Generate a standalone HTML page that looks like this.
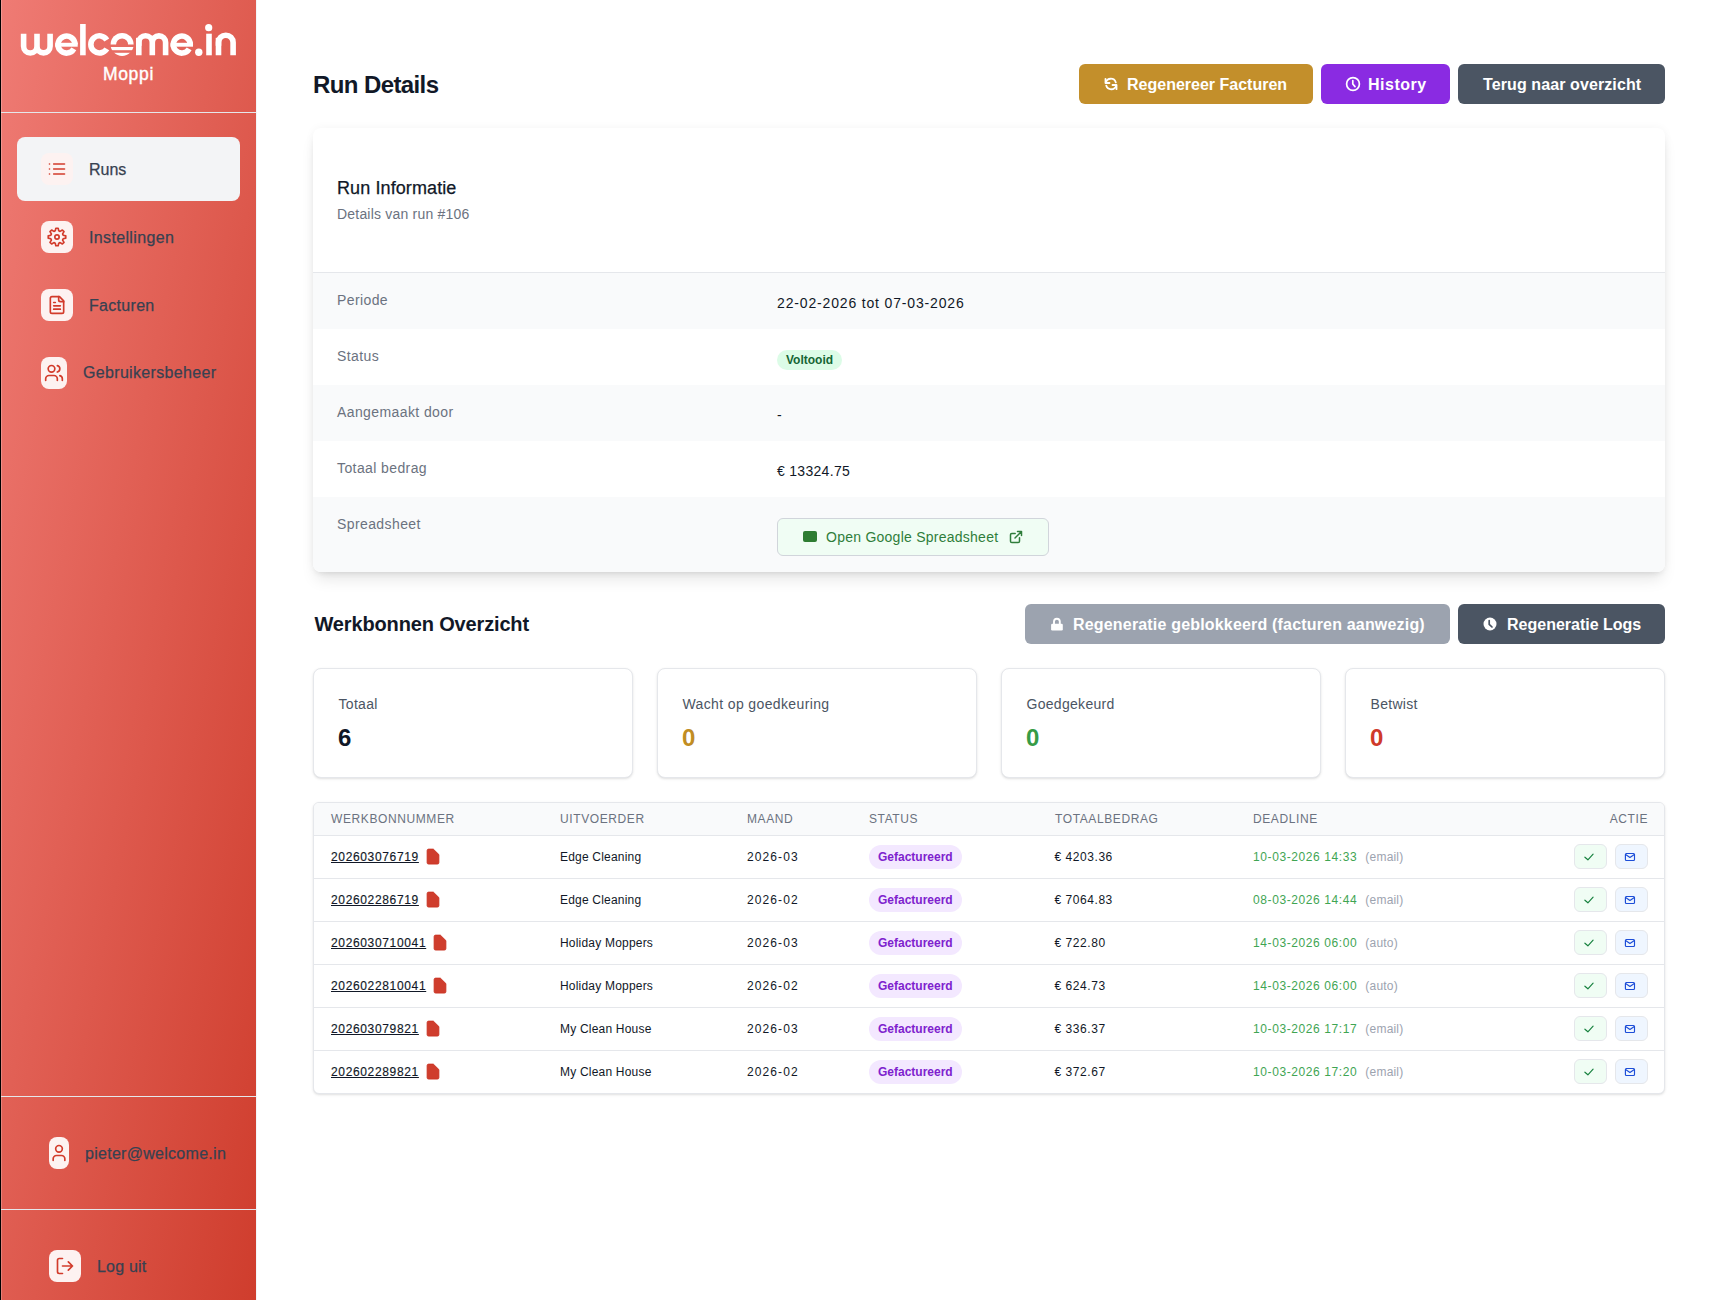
<!DOCTYPE html>
<html><head><meta charset="utf-8">
<style>
*{box-sizing:border-box;margin:0;padding:0}
html,body{width:1720px;height:1300px;overflow:hidden;background:#fff;font-family:"Liberation Sans",sans-serif;color:#111827}
.abs{position:absolute;white-space:nowrap}
#blk{position:absolute;left:0;top:0;width:1px;height:1300px;background:#000}
#side{position:absolute;left:1px;top:0;width:255px;height:1300px;background:linear-gradient(to bottom right,#ef7b74,#cf3d2d)}
#side .hl{position:absolute;left:0;top:0;width:1px;height:1300px;background:rgba(255,255,255,.22)}
.sep{position:absolute;left:0;width:255px;height:1px;background:#e5e7eb}
.nav{position:absolute;left:16px;width:223px;height:64px;border-radius:8px}
.nav.act{background:#f3f4f6}
.ibox{position:absolute;width:32px;height:32px;border-radius:8px;background:#fdf2f1;overflow:hidden}
.ibox svg{position:absolute;left:6px;top:6px;width:20px;height:20px}
.ntxt{position:absolute;font-size:16px;line-height:24px;color:#374151;white-space:nowrap;-webkit-text-stroke:0.25px #374151}
.btn{position:absolute;height:40px;border-radius:6px;color:#fff;font-weight:700;font-size:16px;line-height:24px;white-space:nowrap}
.btn span{position:absolute;top:9px}
.btn svg{position:absolute}
.card{position:absolute;left:313px;top:128px;width:1352px;height:444px;border-radius:8px;background:#fff;overflow:hidden;
  box-shadow:0 10px 15px -3px rgba(0,0,0,.1),0 4px 6px -4px rgba(0,0,0,.1),0 0 10px rgba(0,0,0,.045)}
.row{position:absolute;left:0;width:1352px;height:56px}
.row.gr{background:#f9fafb}
.lbl{position:absolute;left:24px;top:16.5px;font-size:14px;line-height:20px;color:#6b7280;letter-spacing:0.4px;white-space:nowrap}
.val{position:absolute;left:464px;top:20px;font-size:14px;line-height:20px;color:#111827;white-space:nowrap}
.stat{position:absolute;top:668px;width:320px;height:110px;border:1px solid #e5e7eb;border-radius:8px;background:#fff;box-shadow:0 1px 3px 0 rgba(0,0,0,.1),0 1px 2px -1px rgba(0,0,0,.1)}
.stat .t{position:absolute;left:24.5px;top:24.5px;letter-spacing:0.3px;font-size:14px;line-height:20px;color:#4b5563;white-space:nowrap}
.stat .v{position:absolute;left:24px;top:53.3px;font-size:24px;line-height:32px;font-weight:700;white-space:nowrap}
.tbl{position:absolute;left:313px;top:802px;width:1352px;height:292px;border:1px solid #e5e7eb;border-radius:6px;overflow:hidden;background:#fff;
  box-shadow:0 1px 3px 0 rgba(0,0,0,.1),0 1px 2px -1px rgba(0,0,0,.1)}
.th{position:absolute;left:0;top:0;width:1350px;height:33px;background:#f9fafb;border-bottom:1px solid #e5e7eb}
.th div{position:absolute;top:8px;font-size:12px;line-height:16px;color:#6b7280;letter-spacing:0.6px;white-space:nowrap}
.tr{position:absolute;left:0;width:1350px;height:43px;border-bottom:1px solid #e5e7eb}
.td{position:absolute;top:13px;font-size:12px;line-height:16px;color:#111827;white-space:nowrap;letter-spacing:0.2px}
.td.num{letter-spacing:0.7px}
.link{text-decoration:underline;letter-spacing:0.65px;text-underline-offset:1px;-webkit-text-stroke:0.15px #111827}
.doc{display:inline-block;width:14px;height:18px;vertical-align:top;margin-left:7px;margin-top:-1px}
.doc svg{display:block}
.badge{position:absolute;top:9px;height:24px;padding:0 9px;border-radius:12px;background:#f3e8ff;color:#7e22ce;font-size:12px;line-height:24px;font-weight:700;white-space:nowrap}
.dl .g{color:#3fa553;letter-spacing:0.6px}
.dl .m{color:#9ca3af;margin-left:8px}
.ab{position:absolute;top:8px;width:33px;height:25px;border:1px solid #e5e7eb;border-radius:6px}
.ab svg{position:absolute;left:8px;top:6px}
.g2{background:#f0fdf4}
.b2{background:#eff6ff}
</style></head>
<body>
<div id="blk"></div><div style="position:absolute;left:256px;top:0;width:1px;height:1300px;background:#f1f6f9"></div>
<div id="side">
  <div class="hl"></div>
  <svg class="abs" style="left:-1px;top:0" width="256" height="100" viewBox="0 0 256 100">
<g fill="none" stroke="#fff" stroke-width="5.6">
<path d="M23.6 33.7V46.3A6.7 6.7 0 0 0 37 46.3V33.7M37 46.3A6.55 6.55 0 0 0 50.1 46.3V33.7"/>
<line x1="82.9" y1="24" x2="82.9" y2="55.3"/>
<path d="M106.82 48.83A8.6 8.6 0 1 1 106.82 39.97"/>
<path d="M138.8 55.3V42.5A4.6 4.6 0 0 1 152.3 42.5V55.3M152.3 42.5A4.6 4.6 0 0 1 165.6 42.5V55.3"/>
<line x1="209" y1="33.7" x2="209" y2="55.3"/>
<path d="M218.5 55.3V42.5A5.9 5.9 0 0 1 233.1 42.5V55.3"/>
</g>
<g fill="#fff">
<circle cx="198.8" cy="52.2" r="3.7"/><circle cx="208.7" cy="27.7" r="3.6"/>
<rect x="136" y="37.8" width="5.6" height="8"/><rect x="215.7" y="37.8" width="5.6" height="8"/>
</g>
<g fill="none" stroke="#fff" stroke-width="5.6">
<path d="M75.00 44.60A8.5 8.5 0 1 0 73.86 48.85"/>
<path d="M190.30 44.60A8.5 8.5 0 1 0 189.16 48.85"/>
</g>
<g fill="#fff"><rect x="55.30" y="42.8" width="22.40" height="3.9"/><rect x="170.60" y="42.8" width="22.40" height="3.9"/></g>
<clipPath id="oc"><circle cx="122.1" cy="44.4" r="11.5"/></clipPath>
<g clip-path="url(#oc)" fill="#fff">
<path fill-rule="evenodd" d="M110 30H135V44.4H110Z M128.1 44.4A6 6 0 0 0 116.1 44.4Z"/>
<rect x="108" y="47" width="30" height="3.2"/>
<rect x="108" y="52.8" width="30" height="4"/>
</g>
</svg>
  <div class="abs" style="left:0;top:62px;width:255px;text-align:center;color:#fff;font-size:17.5px;line-height:24px;font-weight:400;letter-spacing:0.7px;-webkit-text-stroke:0.4px #fff">Moppi</div>
  <div class="sep" style="top:112px"></div>

  <div class="nav act" style="top:137px"></div>
  <div class="ibox" style="left:40px;top:153px"><svg viewBox="0 0 24 24" fill="none" stroke="#d23b2b" stroke-width="2" stroke-linecap="round" stroke-linejoin="round" ><path d="M3 6h.01M3 12h.01M3 18h.01M8 6h13M8 12h13M8 18h13"/></svg></div>
  <div class="ntxt" style="left:88px;top:158.2px">Runs</div>

  <div class="ibox" style="left:40px;top:221px"><svg viewBox="0 0 24 24" fill="none" stroke="#d23b2b" stroke-width="2" stroke-linecap="round" stroke-linejoin="round" ><path d="M9.88 4.60 L10.62 1.49 L13.38 1.49 L14.12 4.60 L15.73 5.27 L18.45 3.59 L20.41 5.55 L18.73 8.27 L19.40 9.88 L22.51 10.62 L22.51 13.38 L19.40 14.12 L18.73 15.73 L20.41 18.45 L18.45 20.41 L15.73 18.73 L14.12 19.40 L13.38 22.51 L10.62 22.51 L9.88 19.40 L8.27 18.73 L5.55 20.41 L3.59 18.45 L5.27 15.73 L4.60 14.12 L1.49 13.38 L1.49 10.62 L4.60 9.88 L5.27 8.27 L3.59 5.55 L5.55 3.59 L8.27 5.27Z"/><circle cx="12" cy="12" r="2.6"/></svg></div>
  <div class="ntxt" style="left:88px;top:225.8px;letter-spacing:0.35px">Instellingen</div>

  <div class="ibox" style="left:40px;top:289px"><svg viewBox="0 0 24 24" fill="none" stroke="#d23b2b" stroke-width="2" stroke-linecap="round" stroke-linejoin="round" ><path d="M15 2H6a2 2 0 0 0-2 2v16a2 2 0 0 0 2 2h12a2 2 0 0 0 2-2V7Z"/><path d="M14 2v4a2 2 0 0 0 2 2h4"/><path d="M10 9H8M16 13H8M16 17H8"/></svg></div>
  <div class="ntxt" style="left:88px;top:293.6px;letter-spacing:0.3px">Facturen</div>

  <div class="ibox" style="left:40px;top:357px;width:26px"><div style="position:absolute;left:-3px;top:0;width:32px;height:32px"><svg viewBox="0 0 24 24" fill="none" stroke="#d23b2b" stroke-width="2" stroke-linecap="round" stroke-linejoin="round" ><path d="M16 21v-2a4 4 0 0 0-4-4H6a4 4 0 0 0-4 4v2"/><circle cx="9" cy="7" r="4"/><path d="M22 21v-2a4 4 0 0 0-3-3.87M16 3.13a4 4 0 0 1 0 7.75"/></svg></div></div>
  <div class="ntxt" style="left:82px;top:361.3px;letter-spacing:0.33px">Gebruikersbeheer</div>

  <div class="sep" style="top:1096px"></div>
  <div class="ibox" style="left:48px;top:1137px;width:20px"><div style="position:absolute;left:-6px;top:0;width:32px;height:32px"><svg viewBox="0 0 24 24" fill="none" stroke="#d23b2b" stroke-width="2" stroke-linecap="round" stroke-linejoin="round" ><path d="M19 21v-2a4 4 0 0 0-4-4H9a4 4 0 0 0-4 4v2"/><circle cx="12" cy="7" r="4"/></svg></div></div>
  <div class="ntxt" style="left:84px;top:1142px;letter-spacing:0.28px">pieter@welcome.in</div>
  <div class="sep" style="top:1209px"></div>
  <div class="ibox" style="left:48px;top:1250px"><svg viewBox="0 0 24 24" fill="none" stroke="#d23b2b" stroke-width="2" stroke-linecap="round" stroke-linejoin="round" ><path d="M9 21H5a2 2 0 0 1-2-2V5a2 2 0 0 1 2-2h4M16 17l5-5-5-5M21 12H9"/></svg></div>
  <div class="ntxt" style="left:96px;top:1255.2px;letter-spacing:0.2px">Log uit</div>
</div>

<div class="abs" style="left:313px;top:69px;font-size:24px;line-height:32px;font-weight:700;letter-spacing:-0.6px;color:#111827">Run Details</div>
<div class="btn" style="left:1079px;top:64px;width:234px;background:#c38f2b"><svg style="left:25px;top:13px" width="14" height="14"></svg><svg style="left:25px;top:13px" width="14" height="14" viewBox="0 0 14 14" fill="none" stroke="#fff" stroke-width="1.8" stroke-linecap="round" stroke-linejoin="round"><path d="M1.5 1.8V6H5.5"/><path d="M1.8 5.6A5.2 5.2 0 0 1 11.8 5.4"/><path d="M12.5 12.2V8H8.5"/><path d="M12.2 8.4A5.2 5.2 0 0 1 2.2 8.6"/></svg><span style="left:48px">Regenereer Facturen</span></div>
<div class="btn" style="left:1321px;top:64px;width:129px;background:#8a2be2"><svg style="left:24px;top:12px" width="16" height="16" viewBox="0 0 16 16" fill="none" stroke="#fff" stroke-width="1.7" stroke-linecap="round" stroke-linejoin="round"><circle cx="8" cy="8" r="6.4"/><path d="M7.8 4.6V8L10 10.6"/></svg><span style="left:47px;letter-spacing:0.5px">History</span></div>
<div class="btn" style="left:1458px;top:64px;width:207px;background:#4b5563"><span style="left:25px;letter-spacing:0.1px">Terug naar overzicht</span></div>

<div class="card">
  <div class="abs" style="left:24px;top:46px;font-size:18px;line-height:28px;color:#111827;letter-spacing:0.1px;-webkit-text-stroke:0.25px #111827">Run Informatie</div>
  <div class="abs" style="left:24px;top:76.2px;font-size:14px;line-height:20px;color:#6b7280;letter-spacing:0.2px">Details van run #106</div>
  <div style="position:absolute;left:0;top:144px;width:1352px;height:1px;background:#e5e7eb"></div>
  <div class="row gr" style="top:145px"><div class="lbl">Periode</div><div class="val" style="letter-spacing:0.84px">22-02-2026 tot 07-03-2026</div></div>
  <div class="row" style="top:201px"><div class="lbl">Status</div><div class="abs" style="left:464px;top:21px;height:20px;padding:0 9px;border-radius:10px;background:#dcfce7;color:#166534;font-size:12px;line-height:20px;font-weight:700">Voltooid</div></div>
  <div class="row gr" style="top:257px"><div class="lbl">Aangemaakt door</div><div class="val">-</div></div>
  <div class="row" style="top:313px"><div class="lbl">Totaal bedrag</div><div class="val" style="letter-spacing:0.3px">€ 13324.75</div></div>
  <div class="row gr" style="top:369px;height:75px"><div class="lbl">Spreadsheet</div>
    <div class="abs" style="left:464px;top:21px;width:272px;height:38px;border:1px solid #d1d5db;border-radius:6px;background:#f0fdf4">
      <div class="abs" style="left:25px;top:12px;width:14px;height:11px;border-radius:2px;background:#2e7d32"></div>
      <div class="abs" style="left:48px;top:8px;font-size:14px;line-height:20px;color:#2f7d3b;letter-spacing:0.25px">Open Google Spreadsheet</div>
      <svg class="abs" style="left:231px;top:11px" width="14" height="14" viewBox="0 0 14 14" fill="none" stroke="#2f7d3b" stroke-width="1.5" stroke-linecap="round" stroke-linejoin="round"><path d="M10.5 7.8V11.2A1.3 1.3 0 0 1 9.2 12.5H2.8A1.3 1.3 0 0 1 1.5 11.2V4.8A1.3 1.3 0 0 1 2.8 3.5H6.2"/><path d="M8.5 1.5H12.5V5.5M6 8L12.5 1.5"/></svg>
    </div>
  </div>
</div>

<div class="abs" style="left:314.5px;top:610px;font-size:20px;line-height:28px;font-weight:700;color:#111827;letter-spacing:-0.15px">Werkbonnen Overzicht</div>
<div class="btn" style="left:1025px;top:604px;width:425px;background:#9ca3af"><svg style="left:25px;top:13px" width="14" height="14" viewBox="0 0 14 14"><path d="M4 7.2V4.6A2.9 2.9 0 0 1 9.8 4.6V7.2" fill="none" stroke="#fff" stroke-width="1.9"/><rect x="1.1" y="6.8" width="11.7" height="6.7" rx="1.3" fill="#fff"/></svg><span style="left:48px;letter-spacing:0.18px">Regeneratie geblokkeerd (facturen aanwezig)</span></div>
<div class="btn" style="left:1458px;top:604px;width:207px;background:#4b5563"><svg style="left:25px;top:13px" width="14" height="14" viewBox="0 0 14 14"><circle cx="7" cy="7" r="6.5" fill="#fff"/><path d="M6.2 3.6V7.4L9 10" fill="none" stroke="#4b5563" stroke-width="1.7" stroke-linecap="round" stroke-linejoin="round"/></svg><span style="left:49px">Regeneratie Logs</span></div>

<div class="stat" style="left:313px"><div class="t">Totaal</div><div class="v" style="color:#111827">6</div></div>
<div class="stat" style="left:657px"><div class="t" style="letter-spacing:0.37px">Wacht op goedkeuring</div><div class="v" style="color:#c18d22">0</div></div>
<div class="stat" style="left:1001px"><div class="t">Goedgekeurd</div><div class="v" style="color:#369c46">0</div></div>
<div class="stat" style="left:1345px"><div class="t">Betwist</div><div class="v" style="color:#cf3a2a">0</div></div>

<div class="tbl">
  <div class="th">
    <div style="left:17px">WERKBONNUMMER</div>
    <div style="left:246px">UITVOERDER</div>
    <div style="left:433px">MAAND</div>
    <div style="left:555px">STATUS</div>
    <div style="left:741px">TOTAALBEDRAG</div>
    <div style="left:939px">DEADLINE</div>
    <div style="right:16px">ACTIE</div>
  </div>
  <div class="tr" style="top:33px">
<div class="td link" style="left:17px">202603076719<span class="doc"><svg width="14" height="18" viewBox="0 0 14 18"><path d="M2.6 1.1H7.3L12.9 6.6V14.6A1.5 1.5 0 0 1 11.4 16.1H2.6A1.5 1.5 0 0 1 1.1 14.6V2.6A1.5 1.5 0 0 1 2.6 1.1Z" fill="#cf3d2d" stroke="#c9301f" stroke-width="0.8" stroke-linejoin="round"/></svg></span></div>
<div class="td" style="left:246px">Edge Cleaning</div>
<div class="td num" style="left:433px;letter-spacing:1.1px">2026-03</div>
<div class="badge" style="left:555px">Gefactureerd</div>
<div class="td num" style="left:740.5px;letter-spacing:0.55px">€ 4203.36</div>
<div class="td dl" style="left:939px"><span class="g">10-03-2026 14:33</span><span class="m">(email)</span></div>
<div class="ab g2" style="left:1260px"><svg width="12" height="12" viewBox="0 0 12 12" fill="none" stroke="#15803d" stroke-width="1.15" stroke-linecap="round" stroke-linejoin="round"><path d="M1.9 6.2L4.9 8.8L10.1 3.2"/></svg></div>
<div class="ab b2" style="left:1301px"><svg width="12" height="12" viewBox="0 0 12 12" fill="none" stroke="#1d4ed8" stroke-width="1.15" stroke-linejoin="round"><rect x="1.4" y="2.5" width="9.1" height="7" rx="1"/><path d="M1.6 3.5L5.95 6.4L10.3 3.5"/></svg></div>
</div><div class="tr" style="top:76px">
<div class="td link" style="left:17px">202602286719<span class="doc"><svg width="14" height="18" viewBox="0 0 14 18"><path d="M2.6 1.1H7.3L12.9 6.6V14.6A1.5 1.5 0 0 1 11.4 16.1H2.6A1.5 1.5 0 0 1 1.1 14.6V2.6A1.5 1.5 0 0 1 2.6 1.1Z" fill="#cf3d2d" stroke="#c9301f" stroke-width="0.8" stroke-linejoin="round"/></svg></span></div>
<div class="td" style="left:246px">Edge Cleaning</div>
<div class="td num" style="left:433px;letter-spacing:1.1px">2026-02</div>
<div class="badge" style="left:555px">Gefactureerd</div>
<div class="td num" style="left:740.5px;letter-spacing:0.55px">€ 7064.83</div>
<div class="td dl" style="left:939px"><span class="g">08-03-2026 14:44</span><span class="m">(email)</span></div>
<div class="ab g2" style="left:1260px"><svg width="12" height="12" viewBox="0 0 12 12" fill="none" stroke="#15803d" stroke-width="1.15" stroke-linecap="round" stroke-linejoin="round"><path d="M1.9 6.2L4.9 8.8L10.1 3.2"/></svg></div>
<div class="ab b2" style="left:1301px"><svg width="12" height="12" viewBox="0 0 12 12" fill="none" stroke="#1d4ed8" stroke-width="1.15" stroke-linejoin="round"><rect x="1.4" y="2.5" width="9.1" height="7" rx="1"/><path d="M1.6 3.5L5.95 6.4L10.3 3.5"/></svg></div>
</div><div class="tr" style="top:119px">
<div class="td link" style="left:17px">2026030710041<span class="doc"><svg width="14" height="18" viewBox="0 0 14 18"><path d="M2.6 1.1H7.3L12.9 6.6V14.6A1.5 1.5 0 0 1 11.4 16.1H2.6A1.5 1.5 0 0 1 1.1 14.6V2.6A1.5 1.5 0 0 1 2.6 1.1Z" fill="#cf3d2d" stroke="#c9301f" stroke-width="0.8" stroke-linejoin="round"/></svg></span></div>
<div class="td" style="left:246px">Holiday Moppers</div>
<div class="td num" style="left:433px;letter-spacing:1.1px">2026-03</div>
<div class="badge" style="left:555px">Gefactureerd</div>
<div class="td num" style="left:740.5px;letter-spacing:0.55px">€ 722.80</div>
<div class="td dl" style="left:939px"><span class="g">14-03-2026 06:00</span><span class="m">(auto)</span></div>
<div class="ab g2" style="left:1260px"><svg width="12" height="12" viewBox="0 0 12 12" fill="none" stroke="#15803d" stroke-width="1.15" stroke-linecap="round" stroke-linejoin="round"><path d="M1.9 6.2L4.9 8.8L10.1 3.2"/></svg></div>
<div class="ab b2" style="left:1301px"><svg width="12" height="12" viewBox="0 0 12 12" fill="none" stroke="#1d4ed8" stroke-width="1.15" stroke-linejoin="round"><rect x="1.4" y="2.5" width="9.1" height="7" rx="1"/><path d="M1.6 3.5L5.95 6.4L10.3 3.5"/></svg></div>
</div><div class="tr" style="top:162px">
<div class="td link" style="left:17px">2026022810041<span class="doc"><svg width="14" height="18" viewBox="0 0 14 18"><path d="M2.6 1.1H7.3L12.9 6.6V14.6A1.5 1.5 0 0 1 11.4 16.1H2.6A1.5 1.5 0 0 1 1.1 14.6V2.6A1.5 1.5 0 0 1 2.6 1.1Z" fill="#cf3d2d" stroke="#c9301f" stroke-width="0.8" stroke-linejoin="round"/></svg></span></div>
<div class="td" style="left:246px">Holiday Moppers</div>
<div class="td num" style="left:433px;letter-spacing:1.1px">2026-02</div>
<div class="badge" style="left:555px">Gefactureerd</div>
<div class="td num" style="left:740.5px;letter-spacing:0.55px">€ 624.73</div>
<div class="td dl" style="left:939px"><span class="g">14-03-2026 06:00</span><span class="m">(auto)</span></div>
<div class="ab g2" style="left:1260px"><svg width="12" height="12" viewBox="0 0 12 12" fill="none" stroke="#15803d" stroke-width="1.15" stroke-linecap="round" stroke-linejoin="round"><path d="M1.9 6.2L4.9 8.8L10.1 3.2"/></svg></div>
<div class="ab b2" style="left:1301px"><svg width="12" height="12" viewBox="0 0 12 12" fill="none" stroke="#1d4ed8" stroke-width="1.15" stroke-linejoin="round"><rect x="1.4" y="2.5" width="9.1" height="7" rx="1"/><path d="M1.6 3.5L5.95 6.4L10.3 3.5"/></svg></div>
</div><div class="tr" style="top:205px">
<div class="td link" style="left:17px">202603079821<span class="doc"><svg width="14" height="18" viewBox="0 0 14 18"><path d="M2.6 1.1H7.3L12.9 6.6V14.6A1.5 1.5 0 0 1 11.4 16.1H2.6A1.5 1.5 0 0 1 1.1 14.6V2.6A1.5 1.5 0 0 1 2.6 1.1Z" fill="#cf3d2d" stroke="#c9301f" stroke-width="0.8" stroke-linejoin="round"/></svg></span></div>
<div class="td" style="left:246px">My Clean House</div>
<div class="td num" style="left:433px;letter-spacing:1.1px">2026-03</div>
<div class="badge" style="left:555px">Gefactureerd</div>
<div class="td num" style="left:740.5px;letter-spacing:0.55px">€ 336.37</div>
<div class="td dl" style="left:939px"><span class="g">10-03-2026 17:17</span><span class="m">(email)</span></div>
<div class="ab g2" style="left:1260px"><svg width="12" height="12" viewBox="0 0 12 12" fill="none" stroke="#15803d" stroke-width="1.15" stroke-linecap="round" stroke-linejoin="round"><path d="M1.9 6.2L4.9 8.8L10.1 3.2"/></svg></div>
<div class="ab b2" style="left:1301px"><svg width="12" height="12" viewBox="0 0 12 12" fill="none" stroke="#1d4ed8" stroke-width="1.15" stroke-linejoin="round"><rect x="1.4" y="2.5" width="9.1" height="7" rx="1"/><path d="M1.6 3.5L5.95 6.4L10.3 3.5"/></svg></div>
</div><div class="tr" style="top:248px">
<div class="td link" style="left:17px">202602289821<span class="doc"><svg width="14" height="18" viewBox="0 0 14 18"><path d="M2.6 1.1H7.3L12.9 6.6V14.6A1.5 1.5 0 0 1 11.4 16.1H2.6A1.5 1.5 0 0 1 1.1 14.6V2.6A1.5 1.5 0 0 1 2.6 1.1Z" fill="#cf3d2d" stroke="#c9301f" stroke-width="0.8" stroke-linejoin="round"/></svg></span></div>
<div class="td" style="left:246px">My Clean House</div>
<div class="td num" style="left:433px;letter-spacing:1.1px">2026-02</div>
<div class="badge" style="left:555px">Gefactureerd</div>
<div class="td num" style="left:740.5px;letter-spacing:0.55px">€ 372.67</div>
<div class="td dl" style="left:939px"><span class="g">10-03-2026 17:20</span><span class="m">(email)</span></div>
<div class="ab g2" style="left:1260px"><svg width="12" height="12" viewBox="0 0 12 12" fill="none" stroke="#15803d" stroke-width="1.15" stroke-linecap="round" stroke-linejoin="round"><path d="M1.9 6.2L4.9 8.8L10.1 3.2"/></svg></div>
<div class="ab b2" style="left:1301px"><svg width="12" height="12" viewBox="0 0 12 12" fill="none" stroke="#1d4ed8" stroke-width="1.15" stroke-linejoin="round"><rect x="1.4" y="2.5" width="9.1" height="7" rx="1"/><path d="M1.6 3.5L5.95 6.4L10.3 3.5"/></svg></div>
</div>
</div>
</body></html>
